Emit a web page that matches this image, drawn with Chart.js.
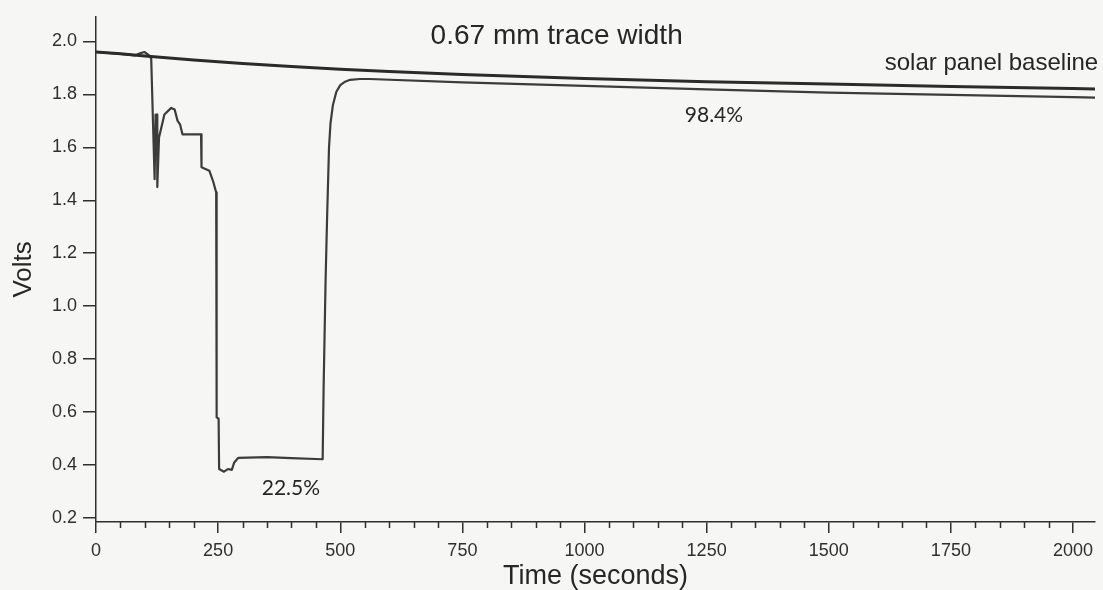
<!DOCTYPE html>
<html>
<head>
<meta charset="utf-8">
<title>0.67 mm trace width</title>
<script src="https://cdn.jsdelivr.net/npm/chart.js@4.4.1/dist/chart.umd.min.js"></script>
<style>
  html, body { margin: 0; padding: 0; background: #f6f6f4; }
  #wrap { width: 1103px; height: 590px; }
</style>
</head>
<body>
<div id="wrap"><canvas id="voltChart" width="1103" height="590"></canvas></div>
<script>
// baseline of the solar panel (no trace)
const baselineTime  = [0, 50, 100, 150, 200, 300, 400, 500, 600, 750, 1000, 1250, 1500, 1750, 2000, 2045];
const baselineVolts = [1.960, 1.953, 1.945, 1.937, 1.930, 1.917, 1.905, 1.895, 1.886, 1.875, 1.860, 1.848, 1.839, 1.830, 1.822, 1.820];

// panel with the 0.67 mm trace
const traceTime  = [0, 50, 80, 90, 99, 108, 113, 120, 122, 125,
                    125.5, 129, 140, 154, 161, 167, 172, 177, 215, 216,
                    232, 240, 246, 247, 251, 252, 262, 270, 278, 283,
                    291, 350, 400, 464, 466, 470, 473, 477, 480, 485,
                    492, 500, 510, 520, 540, 560, 750, 1000, 1250, 1500,
                    1750, 2000, 2045];
const traceVolts = [1.960, 1.953, 1.947, 1.955, 1.960, 1.948, 1.935, 1.48, 1.724, 1.724,
                    1.45, 1.637, 1.724, 1.749, 1.743, 1.70, 1.687, 1.649, 1.649, 1.525,
                    1.512, 1.47, 1.43, 0.58, 0.575, 0.385, 0.375, 0.385, 0.382, 0.41,
                    0.427, 0.43, 0.426, 0.422, 0.7, 1.1, 1.33, 1.6, 1.69, 1.76,
                    1.81, 1.835, 1.848, 1.855, 1.858, 1.858, 1.845, 1.832, 1.819, 1.807,
                    1.798, 1.790, 1.788];

// axis ticks
const xTicks = [0, 250, 500, 750, 1000, 1250, 1500, 1750, 2000];
const yTicks = [0.2, 0.4, 0.6, 0.8, 1.0, 1.2, 1.4, 1.6, 1.8, 2.0];

// text labels, anchored (centre, baseline) in data units
const notes = [
  { text: '0.67 mm trace width',   t: 943,  v: 1.992, font: '28px "Liberation Sans", Arial, sans-serif' },
  { text: 'solar panel baseline',  t: 1833, v: 1.891, font: '24px "Liberation Sans", Arial, sans-serif' },
  { text: '98.4%',                 t: 1265, v: 1.696, font: '21px Lato, "Open Sans", sans-serif' },
  { text: '22.5%',                 t: 399,  v: 0.286, font: '21px Lato, "Open Sans", sans-serif' }
];

const ink = '#2f2f2f';
const sans = '"Liberation Sans", Arial, sans-serif';
const axisFont = { family: sans, size: 18 };

const toPoints = (xs, ys) => xs.map((x, i) => ({ x: x, y: ys[i] }));

// page background
const bgPlugin = {
  id: 'bg',
  beforeDraw(chart) {
    const c = chart.ctx;
    c.save();
    c.fillStyle = '#f6f6f4';
    c.fillRect(0, 0, chart.width, chart.height);
    c.restore();
  }
};

// short minor ticks every 50 s and the text notes
const extrasPlugin = {
  id: 'extras',
  afterDraw(chart) {
    const c = chart.ctx;
    const xs = chart.scales.x, ys = chart.scales.y;
    const bottom = chart.chartArea.bottom;
    c.save();
    c.strokeStyle = ink;
    c.lineWidth = 1.5;
    for (let t = 50; t < xs.max; t += 50) {
      if (t % 250 === 0) continue;
      const px = Math.round(xs.getPixelForValue(t)) + 0.5;
      c.beginPath();
      c.moveTo(px, bottom);
      c.lineTo(px, bottom + 6);
      c.stroke();
    }
    c.fillStyle = '#262626';
    c.textAlign = 'center';
    c.textBaseline = 'alphabetic';
    notes.forEach(n => {
      c.font = n.font;
      c.fillText(n.text, xs.getPixelForValue(n.t), ys.getPixelForValue(n.v));
    });
    c.restore();
  }
};

new Chart(document.getElementById('voltChart').getContext('2d'), {
  type: 'scatter',
  data: {
    datasets: [
      {
        label: 'solar panel baseline',
        data: toPoints(baselineTime, baselineVolts),
        showLine: true,
        borderColor: '#2b2b2b',
        borderWidth: 3,
        pointRadius: 0,
        tension: 0
      },
      {
        label: '0.67 mm trace width',
        data: toPoints(traceTime, traceVolts),
        showLine: true,
        borderColor: '#3c3c3c',
        borderWidth: 2.2,
        pointRadius: 0,
        tension: 0
      }
    ]
  },
  options: {
    responsive: false,
    devicePixelRatio: 1,
    animation: false,
    layout: { padding: { top: 11, right: 8, left: 0, bottom: 0 } },
    plugins: {
      legend: { display: false },
      tooltip: { enabled: false }
    },
    elements: { line: { borderJoinStyle: 'round', borderCapStyle: 'round' } },
    scales: {
      x: {
        type: 'linear',
        min: 0,
        max: 2045,
        afterFit: s => { s.height = 68; },
        afterBuildTicks: s => { s.ticks = xTicks.map(v => ({ value: v })); },
        grid: { drawOnChartArea: false, drawTicks: true, tickLength: 11, color: ink, lineWidth: 1.5 },
        border: { display: true, color: ink, width: 1.5 },
        ticks: { color: ink, font: axisFont, padding: 7, maxRotation: 0, autoSkip: false, callback: v => String(v) },
        title: {
          display: true,
          text: 'Time (seconds)',
          color: '#262626',
          font: { family: sans, size: 27, lineHeight: 1 },
          padding: { top: 0, bottom: 0 }
        }
      },
      y: {
        type: 'linear',
        min: 0.185,
        max: 2.093,
        afterFit: s => { s.width = 96; },
        afterBuildTicks: s => { s.ticks = yTicks.map(v => ({ value: v })); },
        grid: { drawOnChartArea: false, drawTicks: true, tickLength: 13, color: ink, lineWidth: 1.5 },
        border: { display: true, color: ink, width: 1.5 },
        ticks: { color: ink, font: axisFont, padding: 6, autoSkip: false, callback: v => Number(v).toFixed(1) },
        title: {
          display: true,
          text: 'Volts',
          color: '#262626',
          font: { family: sans, size: 26, lineHeight: 1 },
          padding: { top: 11, bottom: 0 }
        }
      }
    }
  },
  plugins: [bgPlugin, extrasPlugin]
});
</script>
</body>
</html>
